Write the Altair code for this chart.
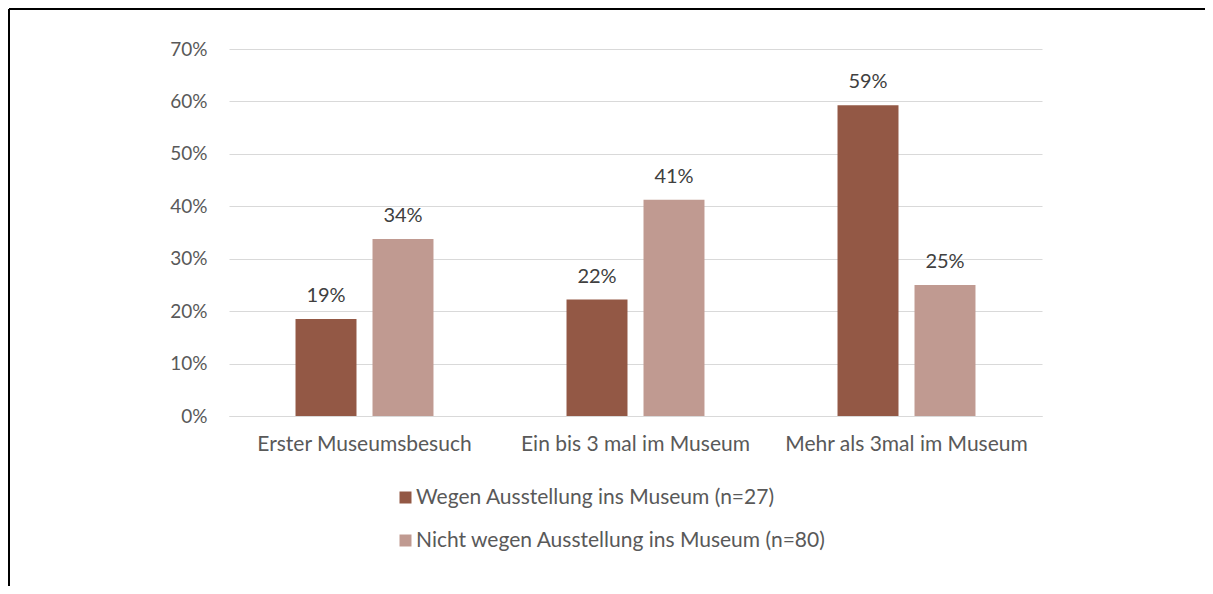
import altair as alt
import pandas as pd

categories = ["Erster Museumsbesuch", "Ein bis 3 mal im Museum", "Mehr als 3mal im Museum"]
series = ["Wegen Ausstellung ins Museum (n=27)", "Nicht wegen Ausstellung ins Museum (n=80)"]
wegen = [0.1852, 0.2222, 0.5926]
nicht_wegen = [0.3375, 0.4125, 0.25]
y_ticks = [0, 0.1, 0.2, 0.3, 0.4, 0.5, 0.6, 0.7]
colors = ["#935845", "#C09A91"]

rows = []
for c, v in zip(categories, wegen):
    rows.append({"Kategorie": c, "Gruppe": series[0], "Anteil": v})
for c, v in zip(categories, nicht_wegen):
    rows.append({"Kategorie": c, "Gruppe": series[1], "Anteil": v})
df = pd.DataFrame(rows)

FONT = "Lato"
W, H = 813, 367
PL, PT = 221, 41
PR = 1197 - PL - W
PB = 578 - PT - H

base = alt.Chart(df).encode(
    x=alt.X("Kategorie:N", sort=categories, title=None,
            scale=alt.Scale(paddingInner=0, paddingOuter=0),
            axis=alt.Axis(labelAngle=0, labelFont=FONT, labelFontSize=21,
                          labelColor="#595959", labelPadding=17, ticks=False,
                          labelLimit=600, domainColor="#d9d9d9", domainWidth=1,
                          grid=False)),
    xOffset=alt.XOffset("Gruppe:N", sort=series,
                        scale=alt.Scale(paddingInner=0.208, paddingOuter=0.864)),
)

bars = base.mark_bar().encode(
    y=alt.Y("Anteil:Q", title=None,
            scale=alt.Scale(domain=[0, 0.7], nice=False),
            axis=alt.Axis(values=y_ticks, format=".0%", labelFont=FONT,
                          labelFontSize=19, labelColor="#595959", labelPadding=22,
                          ticks=False, domain=False, gridColor="#d9d9d9",
                          gridWidth=1)),
    color=alt.Color("Gruppe:N", sort=series,
                    scale=alt.Scale(domain=series, range=colors),
                    legend=alt.Legend(title=None, orient="none", legendX=166,
                                      legendY=438, direction="vertical",
                                      symbolType="square", symbolSize=144,
                                      symbolStrokeWidth=0, labelFont=FONT,
                                      labelFontSize=21, labelColor="#595959",
                                      labelOffset=0, rowPadding=21, padding=0,
                                      labelLimit=600)),
)

labels = base.mark_text(font=FONT, fontSize=20, color="#404040",
                        baseline="alphabetic", dy=-17).encode(
    y=alt.Y("Anteil:Q"),
    text=alt.Text("Anteil:Q", format=".0%"),
)

frame_df = pd.DataFrame({"k": [0]})
top_line = alt.Chart(frame_df).mark_rule(color="black", strokeWidth=2).encode(
    x=alt.value(-PL + 1), x2=alt.value(W + PR), y=alt.value(-PT + 1))
left_line = alt.Chart(frame_df).mark_rule(color="black", strokeWidth=2).encode(
    x=alt.value(-PL + 1), y=alt.value(-PT + 1), y2=alt.value(H + PB))

chart = alt.layer(bars, labels, top_line, left_line).properties(
    width=W, height=H,
    padding={"left": PL, "top": PT, "right": PR, "bottom": PB},
    autosize=alt.AutoSizeParams(type="none"),
).configure(background="white").configure_view(stroke=None)

chart.save("out.html", embed_options={"renderer": "svg", "actions": False})
